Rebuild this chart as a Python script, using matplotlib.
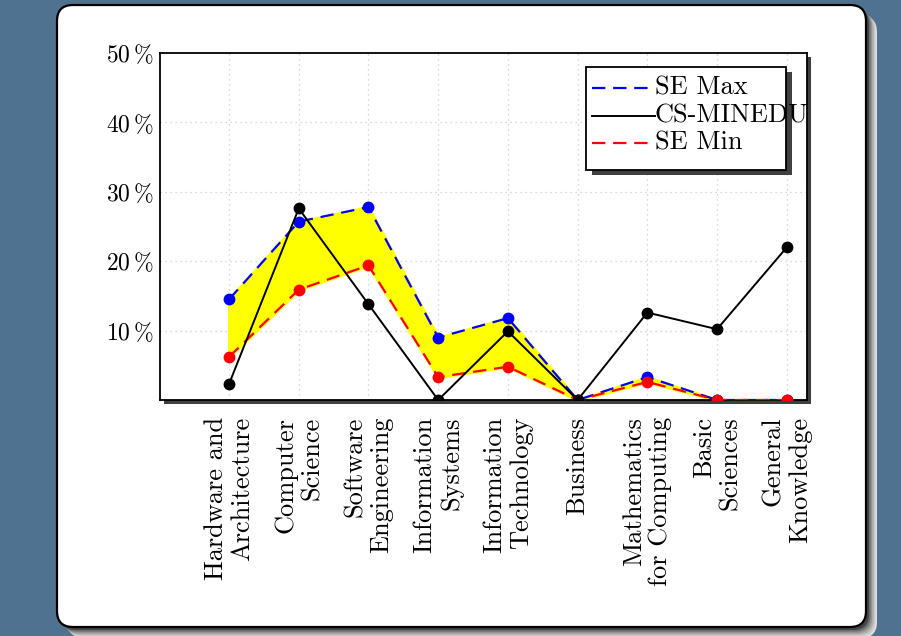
import matplotlib
matplotlib.use("Agg")
import matplotlib.pyplot as plt
from matplotlib.patches import FancyBboxPatch, Rectangle
from matplotlib.lines import Line2D
import numpy as np

plt.rcParams['font.family'] = ['cmr10', 'DejaVu Serif']
plt.rcParams['mathtext.fontset'] = 'cm'
plt.rcParams['axes.unicode_minus'] = False

categories = ["Hardware and\nArchitecture", "Computer\nScience", "Software\nEngineering",
              "Information\nSystems", "Information\nTechnology", "Business",
              "Mathematics\nfor Computing", "Basic\nSciences", "General\nKnowledge"]
se_max = [14.5, 25.7, 27.8, 9.0, 11.8, 0.0, 3.3, 0.0, 0.0]
cs_minedu = [2.3, 27.6, 13.8, 0.0, 9.9, 0.0, 12.6, 10.2, 22.0]
se_min = [6.2, 15.9, 19.4, 3.3, 4.8, 0.0, 2.6, 0.0, 0.0]
yticks = [10, 20, 30, 40, 50]
legend_labels = ["SE Max", "CS-MINEDU", "SE Min"]

W, H = 901, 636
fig = plt.figure(figsize=(W / 100, H / 100), dpi=100)
fig.patch.set_facecolor('#507291')

# background layer in pixel coordinates for the card
bg = fig.add_axes([0, 0, 1, 1])
bg.set_xlim(0, W)
bg.set_ylim(H, 0)
bg.axis('off')
shades = ['#dedede', '#cacaca', '#b0b0b0', '#929292', '#6e6e6e', '#444444']
for i, c in enumerate(shades):
    off = 11 - i * 1.6
    bg.add_patch(FancyBboxPatch((57 + off, 5 + off), 809, 622,
                                boxstyle="round,pad=0,rounding_size=16",
                                fc=c, ec='none'))
bg.add_patch(FancyBboxPatch((57, 5), 809, 622, boxstyle="round,pad=0,rounding_size=16",
                            fc='white', ec='black', lw=1.6))

# plot axes
L, R, T, B = 160, 807, 53, 400
ax = fig.add_axes([L / W, 1 - B / H, (R - L) / W, (B - T) / H])
bg.add_patch(Rectangle((L + 4, T + 4), R - L, B - T, fc='#404040', ec='none'))

dash = (0, (6, 3.5))
x = np.arange(len(categories))
ax.fill_between(x, se_min, se_max, facecolor='yellow', edgecolor='yellow', lw=2.2, zorder=2)
ax.plot(x, se_max, color='blue', ls=dash, lw=1.6, marker='o', ms=7.5, zorder=3)
ax.plot(x, se_min, color='red', ls=dash, lw=1.6, marker='o', ms=7.5, zorder=4)
ax.plot(x, cs_minedu, color='black', ls='-', lw=1.4, marker='o', ms=7.5, zorder=5)

ax.set_xlim(-0.99, 8.29)
ax.set_ylim(0, 50)
ax.set_xticks(x)
ax.set_xticklabels(categories, rotation=90, ha='center', va='top', multialignment='right',
                   fontsize=19, linespacing=1.15)
ax.set_yticks(yticks)
ax.set_yticklabels([r'$%d\,\%%$' % v for v in yticks], fontsize=17)
ax.tick_params(length=0, pad=5)
ax.tick_params(axis='x', pad=12)
ax.grid(True, color='#cccccc', ls=(0, (1, 3)), lw=0.9, zorder=0)
ax.set_axisbelow(True)
for s in ax.spines.values():
    s.set_linewidth(1.3)

# legend box drawn by hand so the long label can run past the frame
def px(xp, yp):
    return (xp - L) / (R - L), (B - yp) / (B - T)

x0, y0 = px(592, 175)
ax.add_patch(Rectangle((x0, y0), 200 / (R - L), 103 / (B - T), transform=ax.transAxes,
                       fc='#404040', ec='none', zorder=8))
x0, y0 = px(586, 170)
ax.add_patch(Rectangle((x0, y0), 200 / (R - L), 103 / (B - T), transform=ax.transAxes,
                       fc='white', ec='black', lw=1.3, zorder=9))
styles = [('blue', dash, 1.6), ('black', '-', 1.4), ('red', dash, 1.6)]
for (c, ls, lw), lab, yp in zip(styles, legend_labels, [88, 116, 143]):
    xa, ya = px(592, yp)
    xb, _ = px(655, yp)
    ax.add_line(Line2D([xa, xb], [ya, ya], color=c, ls=ls, lw=lw, transform=ax.transAxes,
                       zorder=10))
    ax.text(xb, ya, lab, transform=ax.transAxes, ha='left', va='center', fontsize=19,
            zorder=10)

fig.savefig('out.png', dpi=100, facecolor=fig.get_facecolor())
